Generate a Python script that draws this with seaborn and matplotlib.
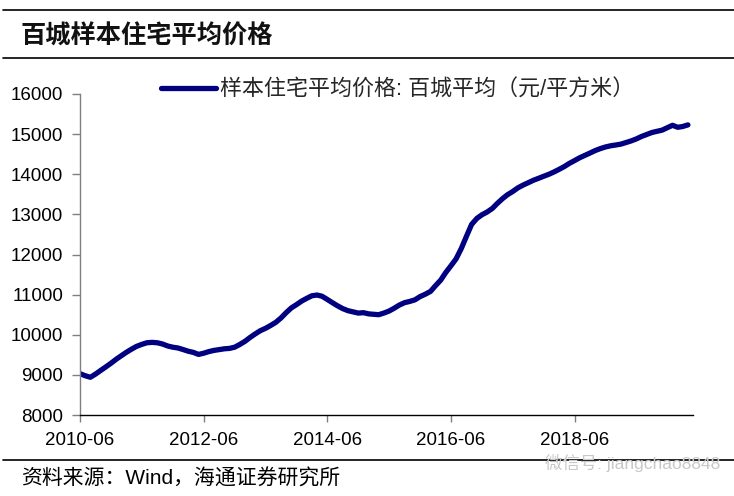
import numpy as np
import pandas as pd
import matplotlib
matplotlib.use("Agg")
import matplotlib.pyplot as plt
import matplotlib.dates as mdates
import seaborn as sns

# ---- data (monthly, 2010-06 .. 2020-04) ----
start_month = "2010-06"
prices = [
    9030, 8980, 8940, 9020, 9110, 9200, 9290, 9390, 9480, 9560,
    9640, 9710, 9760, 9800, 9810, 9800, 9770, 9720, 9690, 9670,
    9630, 9590, 9560, 9510, 9540, 9580, 9610, 9630, 9650, 9660,
    9690, 9760, 9840, 9930, 10020, 10100, 10160, 10230, 10310, 10420,
    10550, 10670, 10750, 10840, 10910, 10970, 10990, 10960, 10880, 10800,
    10720, 10650, 10600, 10570, 10540, 10550, 10520, 10510, 10500, 10540,
    10590, 10660, 10740, 10800, 10830, 10870, 10950, 11010, 11080, 11220,
    11360, 11550, 11720, 11890, 12150, 12460, 12750, 12900, 12990, 13060,
    13150, 13270, 13390, 13490, 13570, 13660, 13730, 13790, 13850, 13900,
    13950, 14000, 14060, 14120, 14190, 14270, 14340, 14410, 14470, 14530,
    14590, 14640, 14680, 14710, 14730, 14750, 14790, 14830, 14880, 14940,
    14990, 15040, 15070, 15100, 15160, 15220, 15170, 15190, 15230,
]
tick_labels = ["2010-06", "2012-06", "2014-06", "2016-06", "2018-06"]
y_ticks = [8000, 9000, 10000, 11000, 12000, 13000, 14000, 15000, 16000]
series_name = "样本住宅平均价格: 百城平均（元/平方米）"
title_text = "百城样本住宅平均价格"
source_text = "资料来源：Wind，海通证券研究所"
watermark_text = "微信号: jiangchao8848"

dates = pd.date_range(start_month, periods=len(prices), freq="MS")
df = pd.DataFrame({"date": dates, "price": prices, "series": series_name})

sns.set_theme(style="white")
plt.rcParams["font.family"] = ["Liberation Sans", "Noto Sans CJK SC", "DejaVu Sans"]
plt.rcParams["axes.unicode_minus"] = False

W, H = 734, 496
fig = plt.figure(figsize=(W / 100, H / 100), dpi=100)
ax = fig.add_axes([80 / W, 1 - 415 / H, (693 - 80) / W, (415 - 94) / H])

sns.lineplot(data=df, x="date", y="price", hue="series", palette=["#000080"],
             linewidth=3.8, ax=ax, legend=True)
for ln in ax.lines:
    ln.set_solid_capstyle("round")
    ln.set_solid_joinstyle("round")

ax.set_xlim(pd.Timestamp("2010-06-01"), pd.Timestamp("2020-05-01"))
ax.set_ylim(8000, 16000)
ax.set_yticks(y_ticks)
ax.set_yticklabels([str(v) for v in y_ticks])
ax.set_xticks([pd.Timestamp(t + "-01") for t in tick_labels])
ax.set_xticklabels(tick_labels)
ax.set_xlabel("")
ax.set_ylabel("")
ax.grid(False)

for s in ["top", "right"]:
    ax.spines[s].set_visible(False)
ax.spines["left"].set_color("#7f7f7f")
ax.spines["left"].set_linewidth(1.0)
ax.spines["bottom"].set_color("black")
ax.spines["bottom"].set_linewidth(1.0)

ax.tick_params(axis="y", which="both", left=True, direction="out", length=6,
               width=1, color="#7f7f7f", pad=6, labelsize=13.5, labelcolor="black")
ax.tick_params(axis="x", which="both", bottom=True, direction="out", length=5,
               width=1, color="#7f7f7f", pad=7, labelsize=13.5, labelcolor="black")

# legend
handles, labels = ax.get_legend_handles_labels()
ax.legend(handles=handles, labels=labels, loc="center left",
          bbox_to_anchor=(161 / W, 1 - 90 / H), bbox_transform=fig.transFigure,
          frameon=False, borderpad=0, borderaxespad=0, handlelength=2.5,
          handletextpad=0.2, prop={"family": ["Liberation Sans", "Noto Sans CJK SC"], "size": 15.8})

# header / footer rules and texts
fig.add_artist(plt.Line2D([3 / W, 1.0], [1 - 10 / H, 1 - 10 / H], color="black", lw=1.2,
                          transform=fig.transFigure))
fig.add_artist(plt.Line2D([3 / W, 1.0], [1 - 58 / H, 1 - 58 / H], color="black", lw=1.2,
                          transform=fig.transFigure))
fig.add_artist(plt.Line2D([3 / W, 1.0], [1 - 460 / H, 1 - 460 / H], color="black", lw=1.2,
                          transform=fig.transFigure))

fig.text(21 / W, 1 - 36 / H, title_text, ha="left", va="center", fontsize=18.2,
         fontweight="bold", family=["Noto Sans CJK SC", "DejaVu Sans"], color="#111111")
fig.text(21 / W, 1 - 479 / H, source_text, ha="left", va="center", fontsize=15,
         family=["Liberation Sans", "Noto Sans CJK SC"], color="black")
fig.text(720 / W, 1 - 463 / H, watermark_text, ha="right", va="center", fontsize=12.5,
         family=["Liberation Sans", "Noto Sans CJK SC"], color="#c8c8c8")

fig.savefig("out.png", dpi=100)
